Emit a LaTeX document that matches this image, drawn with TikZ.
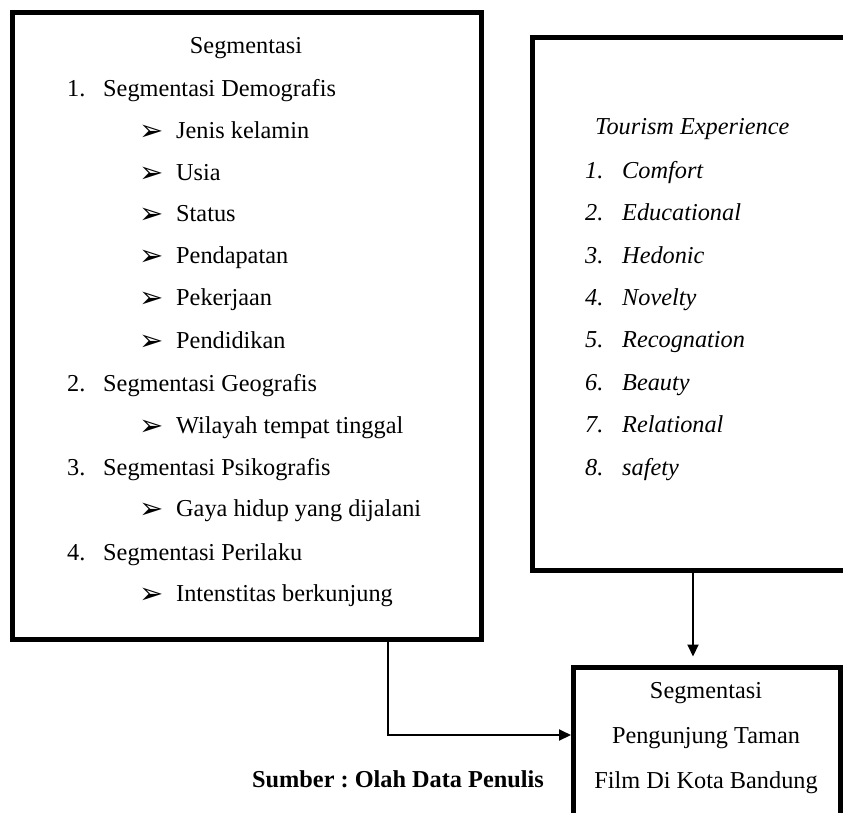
\documentclass[tikz,border=0pt]{standalone}
\usepackage{fontspec}
\setmainfont{Liberation Serif}
\newfontfamily\dejavu{DejaVu Sans}
\usetikzlibrary{arrows.meta}
\frenchspacing
\begin{document}
\begin{tikzpicture}[x=1pt,y=-1pt,
  box/.style={draw, line width=5pt, rectangle, inner sep=0pt},
  txt/.style={anchor=base west, inner sep=0pt, font=\fontsize{24.3}{28}\selectfont},
  itx/.style={anchor=base west, inner sep=0pt, font=\fontsize{24.3}{28}\selectfont\itshape},
  ctr/.style={anchor=base, inner sep=0pt, font=\fontsize{24.3}{28}\selectfont},
  bul/.style={anchor=base west, inner sep=0pt, font=\fontsize{29}{32}\selectfont\dejavu},
  arr/.style={line width=2pt, -{Triangle[length=12pt,width=11pt]}}]
\useasboundingbox (0,0) rectangle (843,812);
\clip (0,0) rectangle (843,812);
\fill[white] (0,0) rectangle (843,812);

% boxes
\node[box, minimum width=468.5pt, minimum height=627pt] (seg) at (246.75,326) {};
\node[box, minimum width=337.5pt, minimum height=532.5pt] (tour) at (701.25,303.75) {};
\node[box, minimum width=266.5pt, minimum height=163pt] (res) at (706.75,748.5) {};

% left box text
\node[ctr] (t0) at (246,53) {Segmentasi};
\node[txt] (n1) at (67,96) {1.};
\node[txt] (h1) at (103,96) {Segmentasi Demografis};
\node[bul] (b1) at (139,140) {➢}; \node[txt] (i1) at (176,138) {Jenis kelamin};
\node[bul] (b2) at (139,182) {➢}; \node[txt] (i2) at (176,180) {Usia};
\node[bul] (b3) at (139,223) {➢}; \node[txt] (i3) at (176,221) {Status};
\node[bul] (b4) at (139,265) {➢}; \node[txt] (i4) at (176,263) {Pendapatan};
\node[bul] (b5) at (139,307) {➢}; \node[txt] (i5) at (176,305) {Pekerjaan};
\node[bul] (b6) at (139,350) {➢}; \node[txt] (i6) at (176,348) {Pendidikan};
\node[txt] (n2) at (67,391) {2.};
\node[txt] (h2) at (103,391) {Segmentasi Geografis};
\node[bul] (b7) at (139,435) {➢}; \node[txt] (i7) at (176,433) {Wilayah tempat tinggal};
\node[txt] (n3) at (67,475) {3.};
\node[txt] (h3) at (103,475) {Segmentasi Psikografis};
\node[bul] (b8) at (139,518) {➢}; \node[txt] (i8) at (176,516) {Gaya hidup yang dijalani};
\node[txt] (n4) at (67,560) {4.};
\node[txt] (h4) at (103,560) {Segmentasi Perilaku};
\node[bul] (b9) at (139,603) {➢}; \node[txt] (i9) at (176,601) {Intenstitas berkunjung};

% right box text
\node[itx] (r0) at (595,134) {Tourism Experience};
\node[itx] (rn1) at (585,178) {1.}; \node[itx] (r1) at (622,178) {Comfort};
\node[itx] (rn2) at (585,220) {2.}; \node[itx] (r2) at (622,220) {Educational};
\node[itx] (rn3) at (585,263) {3.}; \node[itx] (r3) at (622,263) {Hedonic};
\node[itx] (rn4) at (585,305) {4.}; \node[itx] (r4) at (622,305) {Novelty};
\node[itx] (rn5) at (585,347) {5.}; \node[itx] (r5) at (622,347) {Recognation};
\node[itx] (rn6) at (585,390) {6.}; \node[itx] (r6) at (622,390) {Beauty};
\node[itx] (rn7) at (585,432) {7.}; \node[itx] (r7) at (622,432) {Relational};
\node[itx] (rn8) at (585,475) {8.}; \node[itx] (r8) at (622,475) {safety};

% result box text
\node[ctr] (s1) at (706,698) {Segmentasi};
\node[ctr] (s2) at (706,743) {Pengunjung Taman};
\node[ctr] (s3) at (706,788) {Film Di Kota Bandung};

% source
\node[txt, font=\fontsize{24.3}{28}\selectfont\bfseries] (src) at (252,787) {Sumber : Olah Data Penulis};

% connectors
\coordinate (c1) at (388,0);
\coordinate (c2) at (0,735);
\coordinate (c3) at (693,0);
\draw[arr] (seg.south -| c1) |- (res.west |- c2);
\draw[arr, shorten >=8pt] (tour.south -| c3) -- (res.north -| c3);
\end{tikzpicture}
\end{document}
